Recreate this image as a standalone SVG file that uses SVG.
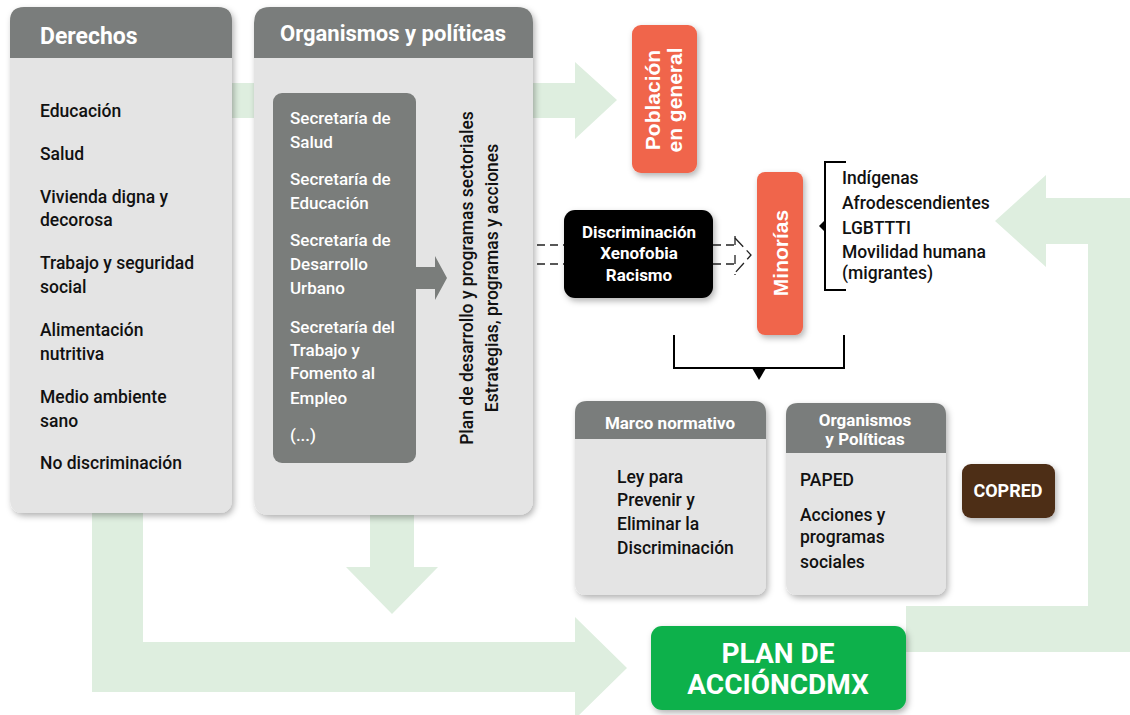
<svg xmlns="http://www.w3.org/2000/svg" width="1130" height="715" viewBox="0 0 1130 715">
<defs>
<filter id="sh" x="-20%" y="-20%" width="150%" height="150%">
<feDropShadow dx="2" dy="3" stdDeviation="3" flood-color="#000" flood-opacity="0.3"/>
</filter>
<style>
.t{font-family:Roboto,"Liberation Sans",sans-serif;font-weight:500;font-size:17.5px;fill:#111}
.w{font-family:Roboto,"Liberation Sans",sans-serif;font-weight:500;font-size:17px;fill:#fff}
.hb{font-family:Roboto,"Liberation Sans",sans-serif;font-weight:700;fill:#fff}
.wide{font-family:"Liberation Sans",Arial,sans-serif;font-weight:700;fill:#fff}
.gr{fill:#deeedf}
.hdr{fill:#7a7d7b}
.body{fill:#e4e4e4}
.dash{stroke:#222;stroke-width:1.3;stroke-dasharray:8 5;fill:none}
.brk{stroke:#000;stroke-width:2;fill:none}
</style>
</defs>
<rect width="1130" height="715" fill="#fff"/>
<g id="connectors">
<polygon class="gr" points="200,83 575,83 575,62 617,100 575,139 575,118 200,118"/>
<polygon class="gr" points="370,480 414,480 414,567 438,567 392,614 346,567 370,567"/>
<polygon class="gr" points="92,400 143,400 143,642 575,642 575,617 627,668 575,719 575,692 92,692"/>
<polygon class="gr" points="906,606 1088,606 1088,244 1046,244 1046,267 995,221 1046,175 1046,198 1135,198 1135,652 906,652"/>
<line class="dash" x1="537" y1="245" x2="564" y2="245"/>
<line class="dash" x1="537" y1="264" x2="564" y2="264"/>
<line class="dash" x1="713" y1="245" x2="735" y2="245"/>
<line class="dash" x1="713" y1="264" x2="735" y2="264"/>
<polyline class="dash" style="stroke-dasharray:12 5" points="735,238 751,255 735,273"/>
<line class="dash" style="stroke-dasharray:9 10" x1="735" y1="236" x2="735" y2="275"/>
<polyline class="brk" points="846,162 825,162 825,290 846,290"/>
<polygon points="825,220 819,226 825,232" fill="#000"/>
<polyline class="brk" points="674,335 674,368 844,368 844,335"/>
<polygon points="752,368 766,368 759,380" fill="#000"/>
</g>
<g id="derechos">
<g filter="url(#sh)">
<path class="body" d="M10,58 H232 V499 Q232,513 218,513 H24 Q10,513 10,499 Z"/>
<path class="hdr" d="M24,7 H218 Q232,7 232,21 V58 H10 V21 Q10,7 24,7 Z"/>
</g>
<text class="hb" x="40" y="44" font-size="23">Derechos</text>
<text class="t" x="40" y="117">Educación</text>
<text class="t" x="40" y="160">Salud</text>
<text class="t" x="40" y="203">Vivienda digna y</text>
<text class="t" x="40" y="226">decorosa</text>
<text class="t" x="40" y="269">Trabajo y seguridad</text>
<text class="t" x="40" y="293">social</text>
<text class="t" x="40" y="336">Alimentación</text>
<text class="t" x="40" y="360">nutritiva</text>
<text class="t" x="40" y="403">Medio ambiente</text>
<text class="t" x="40" y="427">sano</text>
<text class="t" x="40" y="469">No discriminación</text>
</g>
<g id="organismos">
<g filter="url(#sh)">
<path class="body" d="M254,58 H533 V499 Q533,515 517,515 H270 Q254,515 254,499 Z"/>
<path class="hdr" d="M270,7 H517 Q533,7 533,23 V58 H254 V23 Q254,7 270,7 Z"/>
</g>
<text class="hb" x="393" y="41" font-size="22" text-anchor="middle">Organismos y políticas</text>
<rect class="hdr" x="273" y="93" width="143" height="370" rx="9"/>
<polygon class="hdr" points="414,267 435,267 435,256 447,278 435,300 435,289 414,289"/>
<text class="w" x="290" y="124">Secretaría de</text>
<text class="w" x="290" y="148">Salud</text>
<text class="w" x="290" y="185">Secretaría de</text>
<text class="w" x="290" y="209">Educación</text>
<text class="w" x="290" y="246">Secretaría de</text>
<text class="w" x="290" y="270">Desarrollo</text>
<text class="w" x="290" y="294">Urbano</text>
<text class="w" x="290" y="333">Secretaría del</text>
<text class="w" x="290" y="356">Trabajo y</text>
<text class="w" x="290" y="379">Fomento al</text>
<text class="w" x="290" y="404">Empleo</text>
<text class="w" x="290" y="441">(...)</text>
<text class="t" font-size="17" text-anchor="middle" transform="translate(473,278) rotate(-90)">Plan de desarrollo y programas sectoriales</text>
<text class="t" font-size="17" text-anchor="middle" transform="translate(498,278) rotate(-90)">Estrategias, programas y acciones</text>
</g>
<g id="poblacion">
<rect x="632" y="25" width="65" height="148" rx="9" fill="#f0654b" filter="url(#sh)"/>
<text class="wide" font-size="21" text-anchor="middle" transform="translate(660,100) rotate(-90)">Población</text>
<text class="wide" font-size="21" text-anchor="middle" transform="translate(682,100) rotate(-90)">en general</text>
</g>
<g id="discriminacion">
<rect x="564" y="210" width="149" height="88" rx="11" fill="#000" filter="url(#sh)"/>
<text class="hb" font-size="17" text-anchor="middle" x="639" y="238">Discriminación</text>
<text class="hb" font-size="17" text-anchor="middle" x="639" y="259">Xenofobia</text>
<text class="hb" font-size="17" text-anchor="middle" x="639" y="281">Racismo</text>
</g>
<g id="minorias">
<rect x="757" y="172" width="46" height="163" rx="8" fill="#f0654b" filter="url(#sh)"/>
<text class="wide" font-size="21" text-anchor="middle" transform="translate(788,253) rotate(-90)">Minorías</text>
</g>
<g id="grupos">
<text class="t" x="842" y="184">Indígenas</text>
<text class="t" x="842" y="209">Afrodescendientes</text>
<text class="t" x="842" y="234">LGBTTTI</text>
<text class="t" x="842" y="258">Movilidad humana</text>
<text class="t" x="842" y="279">(migrantes)</text>
</g>
<g id="marco">
<g filter="url(#sh)">
<path class="body" d="M575,439 H766 V583 Q766,595 754,595 H587 Q575,595 575,583 Z"/>
<path class="hdr" d="M587,401 H754 Q766,401 766,413 V439 H575 V413 Q575,401 587,401 Z"/>
</g>
<text class="hb" font-size="17" text-anchor="middle" x="670" y="429">Marco normativo</text>
<text class="t" x="617" y="483">Ley para</text>
<text class="t" x="617" y="506">Prevenir y</text>
<text class="t" x="617" y="530">Eliminar la</text>
<text class="t" x="617" y="554">Discriminación</text>
</g>
<g id="organismos2">
<g filter="url(#sh)">
<path class="body" d="M786,453 H946 V583 Q946,595 934,595 H798 Q786,595 786,583 Z"/>
<path class="hdr" d="M798,403 H934 Q946,403 946,415 V453 H786 V415 Q786,403 798,403 Z"/>
</g>
<text class="hb" font-size="17" text-anchor="middle" x="865" y="426">Organismos</text>
<text class="hb" font-size="17" text-anchor="middle" x="865" y="445">y Políticas</text>
<text class="t" x="800" y="486">PAPED</text>
<text class="t" x="800" y="521">Acciones y</text>
<text class="t" x="800" y="543">programas</text>
<text class="t" x="800" y="568">sociales</text>
</g>
<g id="copred">
<rect x="962" y="464" width="93" height="54" rx="9" fill="#4d2d19" filter="url(#sh)"/>
<text class="hb" font-size="18" text-anchor="middle" x="1008" y="497">COPRED</text>
</g>
<g id="plan">
<rect x="651" y="626" width="255" height="84" rx="11" fill="#0db14b" filter="url(#sh)"/>
<text class="hb" font-size="28" text-anchor="middle" x="778" y="663">PLAN DE</text>
<text class="hb" font-size="28" text-anchor="middle" x="778" y="694">ACCIÓNCDMX</text>
</g>
</svg>
